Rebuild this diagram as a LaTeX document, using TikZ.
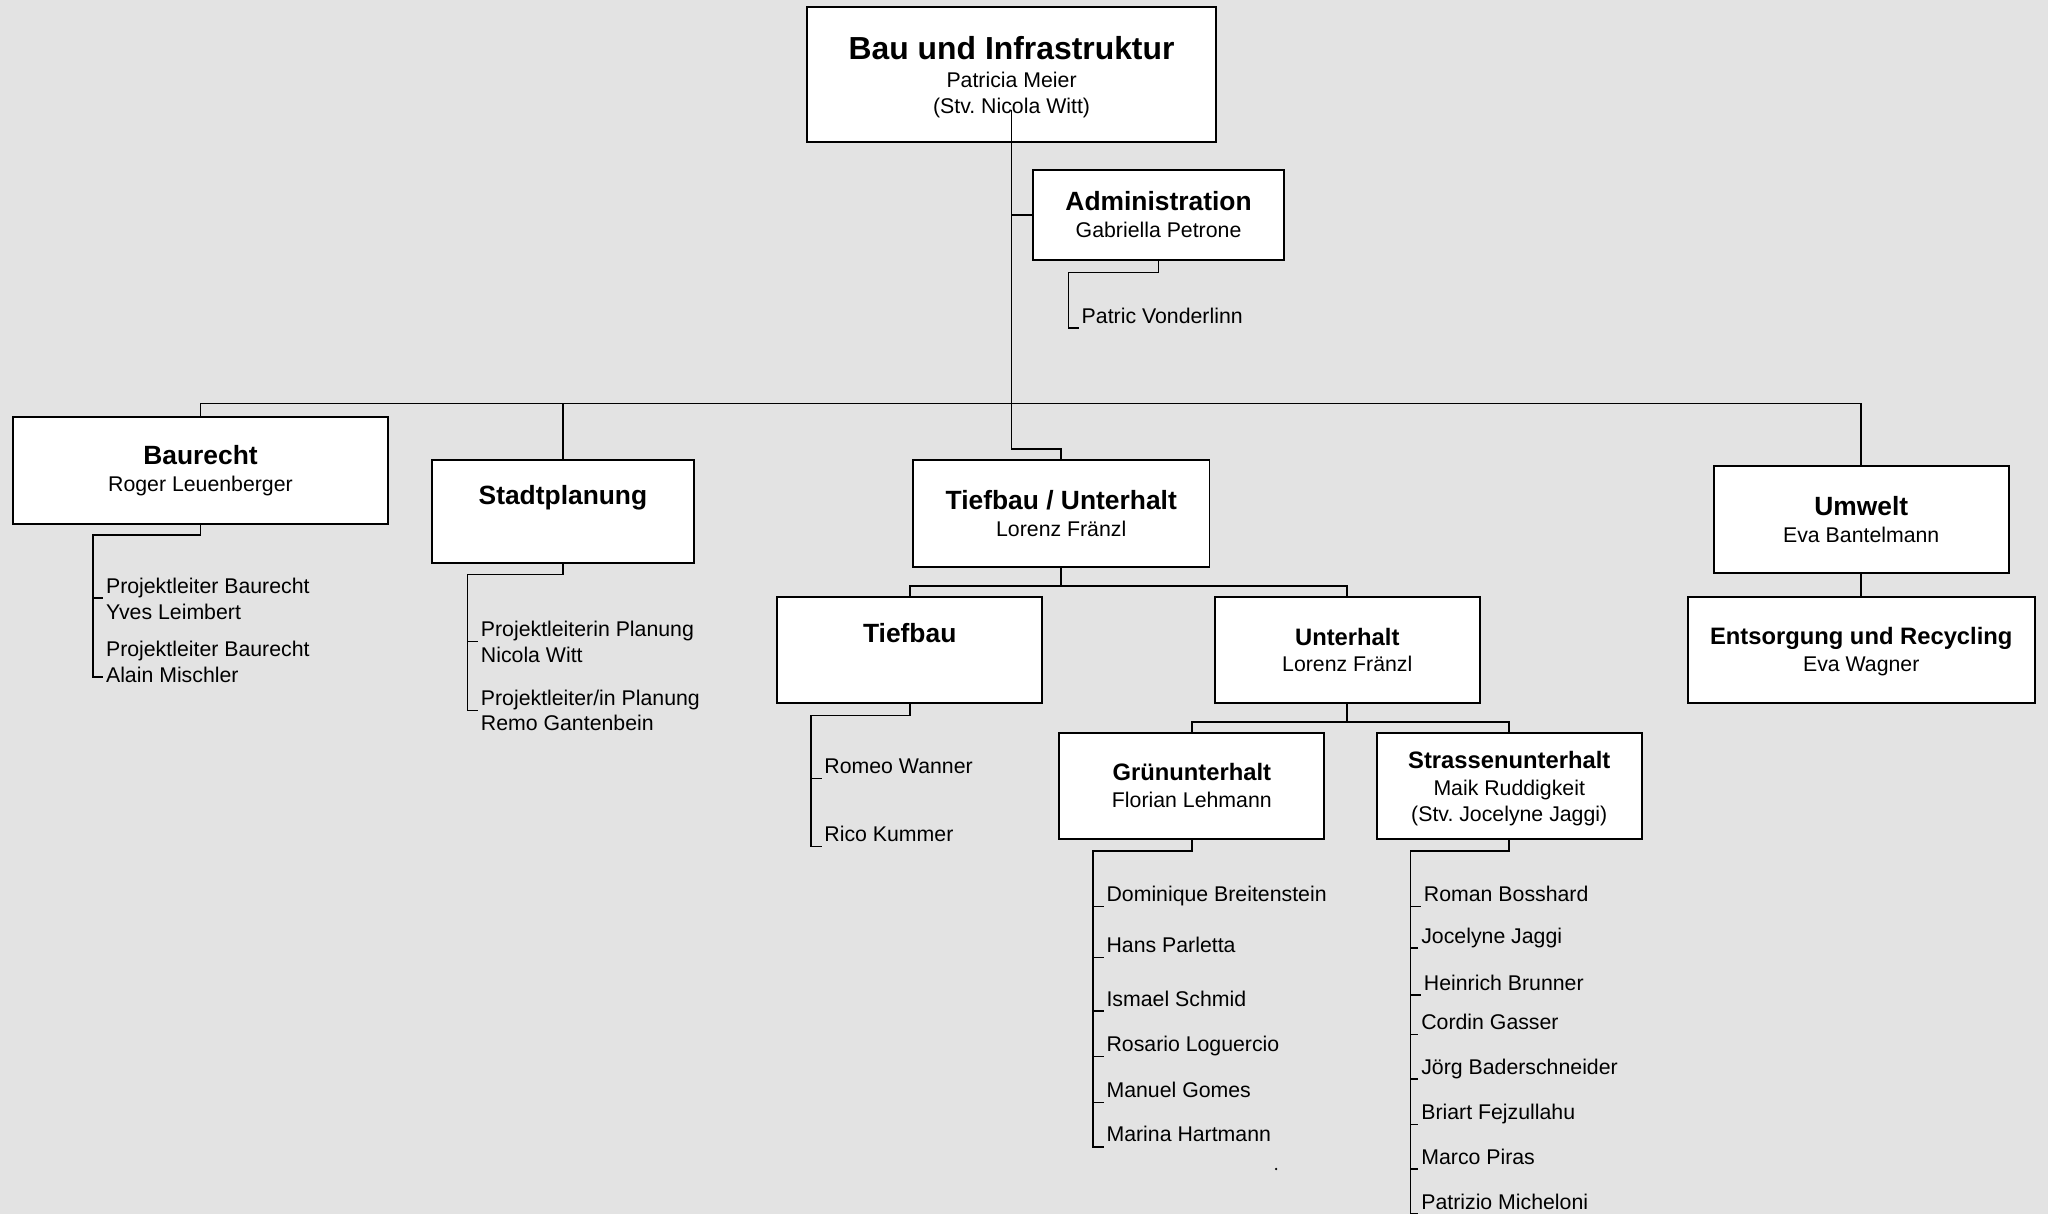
\documentclass[tikz,border=0pt]{standalone}
\usepackage{fontspec}
\setmainfont{Liberation Sans}
\usepackage{tikz}
\usetikzlibrary{positioning,calc}
\definecolor{bg}{RGB}{227,227,227}
\newcommand{\fsName}{\fontsize{16.3}{20}\selectfont}
\newcommand{\fsTop}{\fontsize{24.4}{26}\selectfont\bfseries}
\newcommand{\fsDept}{\fontsize{20.2}{22}\selectfont\bfseries}
\newcommand{\fsUnit}{\fontsize{18.2}{20}\selectfont\bfseries}
\frenchspacing
\tikzset{
  orgbox/.style={draw=black, line width=1.5pt, fill=white, align=center, inner sep=0pt, font=\fsName},
  link/.style={line width=1.25pt, black},
  staff/.style={font=\fsName, inner xsep=2pt, inner ysep=0pt, text depth=3.5pt, anchor=south west}
}

\begin{document}
\begin{tikzpicture}[x=1pt,y=-1pt]
	\fill[bg] (0,0) rectangle (1568,929.4);
	\useasboundingbox (0,0) rectangle (1568,929.4);
	\coordinate (bus) at (0,309);
	\coordinate (aspine) at (818,0);
	\coordinate (bspine) at (71,0);
	\coordinate (sspine) at (358,0);
	\coordinate (tspine) at (621,0);
	\coordinate (gspine) at (837,0);
	\coordinate (rspine) at (1080,0);
	%%%%% boxes
	\node[orgbox, minimum width=313pt, minimum height=104pt] (bau) at (774.5,57) {{\fsTop\rule{0pt}{21.9pt}Bau und Infrastruktur}\\[1.1pt]Patricia Meier\\(Stv. Nicola Witt)};
	\node[orgbox, minimum width=192pt, minimum height=69pt] (admin) at (887,164.5) {{\fsDept Administration}\\[0.6pt]Gabriella Petrone};
	\node[orgbox, minimum width=287pt, minimum height=82pt] (baurecht) at (153.5,360) {{\fsDept Baurecht}\\[0.6pt]Roger Leuenberger};
	\node[orgbox, minimum width=200pt, minimum height=79pt] (stadt) at (431,391.5) {{\fsDept Stadtplanung}\\[0.6pt]\rule[-4.5pt]{0pt}{4.5pt}};
	\node[orgbox, minimum width=227pt, minimum height=82pt] (tu) at (812.5,393) {{\fsDept Tiefbau / Unterhalt}\\[0.6pt]Lorenz Fränzl};
	\node[orgbox, minimum width=226pt, minimum height=82pt] (umwelt) at (1425,398) {{\fsDept Umwelt}\\[0.6pt]Eva Bantelmann};
	\node[orgbox, minimum width=203pt, minimum height=81pt] (tiefbau) at (696.5,497.5) {{\fsDept Tiefbau}\\[0.6pt]\rule[-4.5pt]{0pt}{4.5pt}};
	\node[orgbox, minimum width=203pt, minimum height=81pt] (unterhalt) at (1031.5,497.5) {{\fsUnit Unterhalt}\\[0.3pt]Lorenz Fränzl};
	\node[orgbox, minimum width=266pt, minimum height=81pt] (entsorgung) at (1425,497.5) {{\fsUnit\rule{0pt}{15.7pt}Entsorgung und Recycling}\\[0.3pt]Eva Wagner};
	\node[orgbox, minimum width=203pt, minimum height=81pt] (gruen) at (912.5,601.5) {{\fsUnit Grünunterhalt}\\[0.8pt]Florian Lehmann};
	\node[orgbox, minimum width=203pt, minimum height=81pt] (strassen) at (1155.5,601.5) {{\fsUnit\rule{0pt}{17.7pt}Strassenunterhalt}\\[0.3pt]Maik Ruddigkeit\\(Stv. Jocelyne Jaggi)};
	%%%%% staff
	\node[staff] (patric) at (826,251) {Patric Vonderlinn};
	\node[staff] (bpl1) at (79,458) {Projektleiter Baurecht};
	\node[staff] (byves) at (79,478) {Yves Leimbert};
	\node[staff] (bpl2) at (79,506) {Projektleiter Baurecht};
	\node[staff] (alain) at (79,526) {Alain Mischler};
	\node[staff] (spl1) at (366,491) {Projektleiterin Planung};
	\node[staff] (snicola) at (366,511) {Nicola Witt};
	\node[staff] (spl2) at (366,544) {Projektleiter/in Planung};
	\node[staff] (sremo) at (366,563) {Remo Gantenbein};
	\node[staff] (romeo) at (629,596) {Romeo Wanner};
	\node[staff] (rico) at (629,648) {Rico Kummer};
	\foreach \n/\t/\y in {g1/Dominique Breitenstein/694, g2/Hans Parletta/733, g3/Ismael Schmid/774,
		g4/Rosario Loguercio/809, g5/Manuel Gomes/844, g6/Marina Hartmann/878}
		\node[staff] (\n) at (845,\y) {\t};
	\foreach \n/\t/\x/\y in {s1/Roman Bosshard/1088/694, s2/Jocelyne Jaggi/1086/726, s3/Heinrich Brunner/1088/762,
		s4/Cordin Gasser/1086/792, s5/Jörg Baderschneider/1086/826, s6/Briart Fejzullahu/1086/861,
		s7/Marco Piras/1086/895, s8/Patrizio Micheloni/1086/929.5}
		\node[staff] (\n) at (\x,\y) {\t};
	%%%%% connectors
	\draw[link] ([yshift=-27pt]bau.center) -- ++(0,260) -| (tu.north);
	\draw[link] (bau.center |- admin.west) -- (admin.west);
	\draw[link] (baurecht.north) -- (baurecht.north |- bus) -| (umwelt.north);
	\draw[link] (stadt.north) -- (stadt.north |- bus);
	\draw[link] (tu.south) -- ++(0,14) -| (tiefbau.north);
	\draw[link] (tu.south) ++(0,14) -| (unterhalt.north);
	\draw[link] (unterhalt.south) -- ++(0,14) -| (gruen.north);
	\draw[link] (unterhalt.south) ++(0,14) -| (strassen.north);
	\draw[link] (umwelt.south) -- (entsorgung.north);
	%%%%%
	\draw[link] (admin.south) -- ++(0,9) -| (aspine |- patric.south west) -- (patric.south west);
	\draw[link] (baurecht.south) -- ++(0,8) -| (bspine |- alain.west) -- (alain.west);
	\draw[link] (bspine |- bpl1.south west) -- (bpl1.south west);
	\draw[link] (stadt.south) -- ++(0,8) -| (sspine |- spl2.south west) -- (spl2.south west);
	\draw[link] (sspine |- spl1.south west) -- (spl1.south west);
	\draw[link] (tiefbau.south) -- ++(0,9) -| (tspine |- rico.south west) -- (rico.south west);
	\draw[link] (tspine |- romeo.south west) -- (romeo.south west);
	\draw[link] (gruen.south) -- ++(0,9) -| (gspine |- g6.south west) -- (g6.south west);
	\foreach \n in {g1,g2,g3,g4,g5}
		\draw[link] (gspine |- \n.south west) -- (\n.south west);
	\draw[link] (strassen.south) -- ++(0,9) -| (rspine |- s8.south west) -- (s8.south west);
	\foreach \n in {s1,s2,s3,s4,s5,s6,s7}
		\draw[link] (rspine |- \n.south west) -- (\n.south west);
	\fill (977,895) circle (1pt);
\end{tikzpicture}
\end{document}
